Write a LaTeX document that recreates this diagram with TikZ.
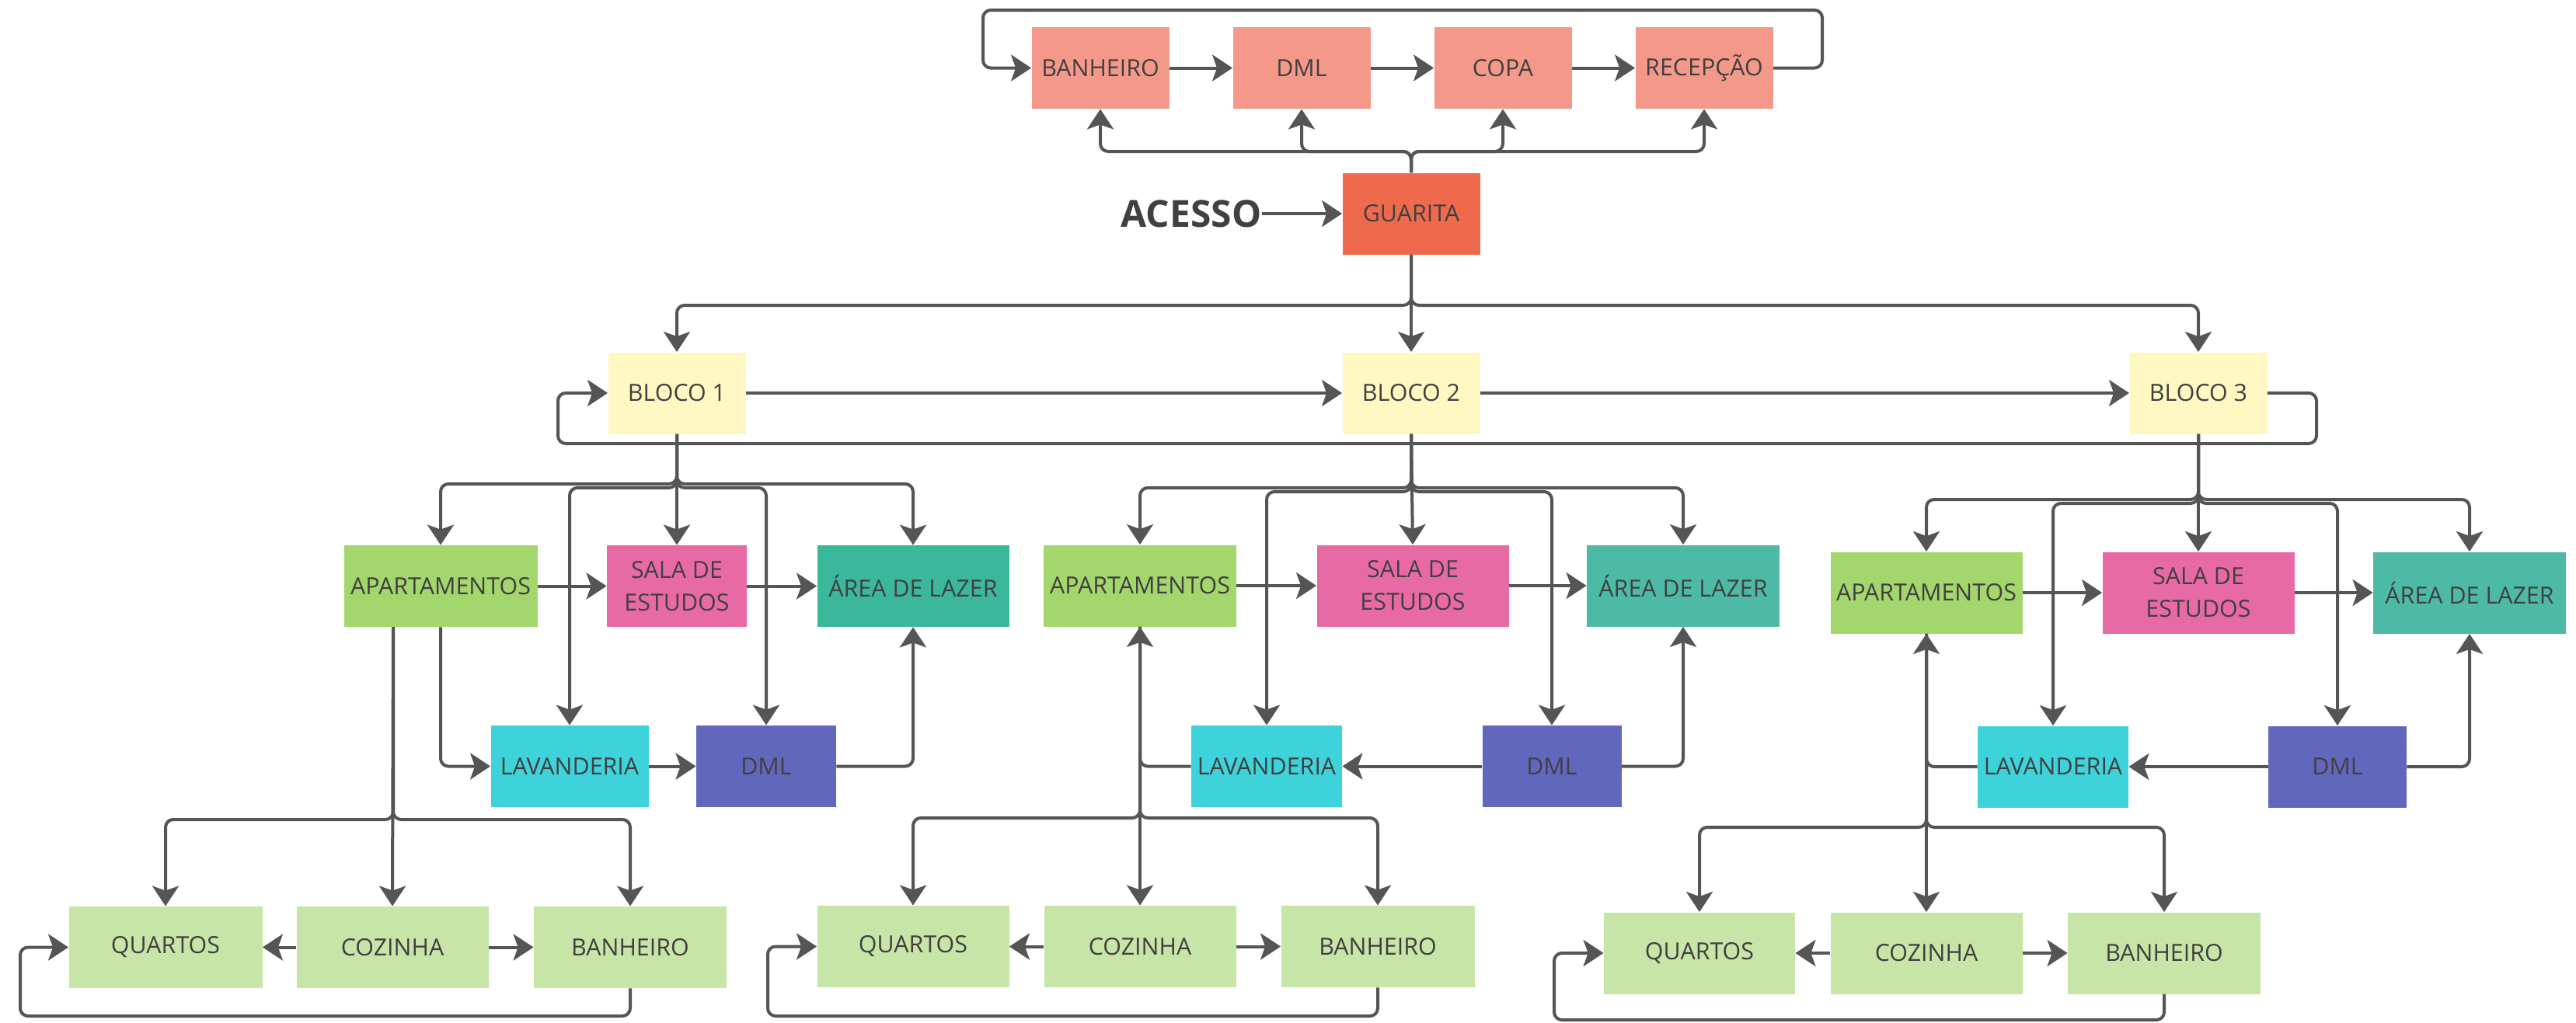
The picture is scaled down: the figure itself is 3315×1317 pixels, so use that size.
\documentclass[tikz,border=0pt]{standalone}
\usepackage{fontspec}
\setmainfont{Open Sans}
\usetikzlibrary{arrows.meta}
\definecolor{salmon}{HTML}{F4998A}
\definecolor{guarita}{HTML}{EF6A4C}
\definecolor{bloco}{HTML}{FFF8C2}
\definecolor{apto}{HTML}{A3D66C}
\definecolor{sala}{HTML}{E86AA4}
\definecolor{areaA}{HTML}{3BB79C}
\definecolor{areaB}{HTML}{4DBAA5}
\definecolor{lav}{HTML}{3ED3DB}
\definecolor{dml}{HTML}{6267BE}
\definecolor{pale}{HTML}{C6E5A7}
\definecolor{lineclr}{HTML}{555555}
\definecolor{txt}{HTML}{404040}
\begin{document}
\begin{tikzpicture}[x=0.5pt,y=-0.5pt,
  box/.style={rectangle, inner sep=0pt, minimum height=52.5pt, text=txt,
    font=\fontsize{15.2}{21}\selectfont, align=center},
  arr/.style={draw=lineclr, line width=2pt, rounded corners=5pt,
    -{Stealth[length=13pt,width=17pt,inset=3pt]}}]
\useasboundingbox (0,0) rectangle (3315,1317);
\fill[white] (0,0) rectangle (3315,1317);

% ---------- top row ----------
\node[box, fill=salmon, minimum width=88.5pt] (tban) at (1416,87.5) {BANHEIRO};
\node[box, fill=salmon, minimum width=88.5pt] (tdml) at (1675,87.5) {DML};
\node[box, fill=salmon, minimum width=88.5pt] (tcopa) at (1934,87.5) {COPA};
\node[box, fill=salmon, minimum width=88.5pt] (trec) at (2193,87.5) {RECEPÇÃO};
\node[box, fill=guarita, minimum width=88.5pt] (gua) at (1816,275) {GUARITA};
\node[text=txt, inner sep=0pt, font=\fontsize{24}{27}\selectfont\bfseries] (acesso) at (1533,275) {ACESSO};

\draw[arr] (tban) -- (tdml);
\draw[arr] (tdml) -- (tcopa);
\draw[arr] (tcopa) -- (trec);
\draw[arr] (trec.east) -| (2345,13) -| (1265,87.5) -- (tban.west);
\draw[arr] (acesso.east) -- (acesso.east -| gua.west);
\coordinate (gj) at (1816,195);
\draw[arr] (gua.north) -- (gj) -| (tban.south);
\draw[arr] (gua.north) -- (gj) -| (tdml.south);
\draw[arr] (gua.north) -- (gj) -| (tcopa.south);
\draw[arr] (gua.north) -- (gj) -| (trec.south);

% ---------- blocos ----------
\node[box, fill=bloco, minimum width=88.5pt] (b1) at (871,506) {BLOCO 1};
\node[box, fill=bloco, minimum width=88.5pt] (b2) at (1816,506) {BLOCO 2};
\node[box, fill=bloco, minimum width=88.5pt] (b3) at (2829,506) {BLOCO 3};
\coordinate (bj) at (1816,393);
\draw[arr] (gua.south) -- (bj) -| (b1.north);
\draw[arr] (gua.south) -- (b2.north);
\draw[arr] (gua.south) -- (bj) -| (b3.north);
\draw[arr] (b1) -- (b2);
\draw[arr] (b2) -- (b3);
\draw[arr] (b3.east) -| (2981,571) -| (718,506) -- (b1.west);

% ---------- bloco 1 ----------
\node[box, fill=apto, minimum width=124.5pt] (a1) at (567,754.5) {APARTAMENTOS};
\node[box, fill=sala, minimum width=90pt] (s1) at (871,754.5) {SALA DE\\ESTUDOS};
\node[box, fill=areaA, minimum width=123.5pt] (ar1) at (1175,754.5) {ÁREA DE LAZER};
\node[box, fill=lav, minimum width=101.5pt] (l1) at (733,986.5) {LAVANDERIA};
\node[box, fill=dml, minimum width=90pt] (d1) at (986,986.5) {DML};
\node[box, fill=pale, minimum width=124.5pt] (q1) at (213,1219.5) {QUARTOS};
\node[box, fill=pale, minimum width=123.5pt] (c1) at (505,1219.5) {COZINHA};
\node[box, fill=pale, minimum width=124pt] (bn1) at (811,1219.5) {BANHEIRO};

\coordinate (j1) at (871,623);
\coordinate (k1) at (871,628);
\draw[arr] (b1.south) -- (j1) -| (a1.north);
\draw[arr] (b1.south) -- (j1) -| (ar1.north);
\draw[arr] (b1.south) -- (s1.north);
\draw[arr] (b1.south) -- (k1) -| (l1.north);
\draw[arr] (b1.south) -- (k1) -| (d1.north);
\draw[arr] (a1) -- (s1);
\draw[arr] (s1) -- (ar1);
\draw[arr] (a1.south) |- (l1.west);
\draw[arr] (l1) -- (d1);
\draw[arr] (d1.east) -| (ar1.south);
\coordinate (a1o) at (506,807);
\coordinate (m1) at (506,1055);
\draw[arr] (a1o) -- (m1) -| (q1.north);
\draw[arr] (a1o) -- (c1.north);
\draw[arr] (a1o) -- (m1) -| (bn1.north);
\draw[arr] (c1) -- (q1);
\draw[arr] (c1) -- (bn1);
\draw[arr] (bn1.south) |- (26,1308) |- (q1.west);

% ---------- bloco 2 ----------
\node[box, fill=apto, minimum width=124pt] (a2) at (1467,754) {APARTAMENTOS};
\node[box, fill=sala, minimum width=123.5pt] (s2) at (1818,754) {SALA DE\\ESTUDOS};
\node[box, fill=areaB, minimum width=124pt] (ar2) at (2166,754) {ÁREA DE LAZER};
\node[box, fill=lav, minimum width=97pt] (l2) at (1630,986.5) {LAVANDERIA};
\node[box, fill=dml, minimum width=89.5pt] (d2) at (1997,986.5) {DML};
\node[box, fill=pale, minimum width=123.5pt] (q2) at (1175,1218.5) {QUARTOS};
\node[box, fill=pale, minimum width=123.5pt] (c2) at (1467,1218.5) {COZINHA};
\node[box, fill=pale, minimum width=124.5pt] (bn2) at (1773,1218.5) {BANHEIRO};

\coordinate (j2) at (1816,628);
\coordinate (k2) at (1816,633);
\draw[arr] (b2.south) -- (j2) -| (a2.north);
\draw[arr] (b2.south) -- (j2) -| (ar2.north);
\draw[arr] (b2.south) -- (s2.north);
\draw[arr] (b2.south) -- (k2) -| (l2.north);
\draw[arr] (b2.south) -- (k2) -| (d2.north);
\draw[arr] (a2) -- (s2);
\draw[arr] (s2) -- (ar2);
\draw[arr] (d2) -- (l2);
\draw[arr] (d2.east) -| (ar2.south);
\draw[arr] (l2.west) -| (a2.south);
\coordinate (m2) at (1467,1053);
\draw[arr] (a2.south) -- (m2) -| (q2.north);
\draw[arr] (a2.south) -- (c2.north);
\draw[arr] (a2.south) -- (m2) -| (bn2.north);
\draw[arr] (c2) -- (q2);
\draw[arr] (c2) -- (bn2);
\draw[arr] (bn2.south) |- (988,1308) |- (q2.west);

% ---------- bloco 3 ----------
\node[box, fill=apto, minimum width=123.5pt] (a3) at (2479,763) {APARTAMENTOS};
\node[box, fill=sala, minimum width=123.5pt] (s3) at (2829,763) {SALA DE\\ESTUDOS};
\node[box, fill=areaB, minimum width=124pt] (ar3) at (3178,763) {ÁREA DE LAZER};
\node[box, fill=lav, minimum width=97pt] (l3) at (2642,987) {LAVANDERIA};
\node[box, fill=dml, minimum width=89pt] (d3) at (3008,987) {DML};
\node[box, fill=pale, minimum width=123pt] (q3) at (2187,1227) {QUARTOS};
\node[box, fill=pale, minimum width=123.5pt] (c3) at (2479,1227) {COZINHA};
\node[box, fill=pale, minimum width=124pt] (bn3) at (2785,1227) {BANHEIRO};

\coordinate (j3) at (2829,643);
\coordinate (k3) at (2829,648);
\draw[arr] (b3.south) -- (j3) -| (a3.north);
\draw[arr] (b3.south) -- (j3) -| (ar3.north);
\draw[arr] (b3.south) -- (s3.north);
\draw[arr] (b3.south) -- (k3) -| (l3.north);
\draw[arr] (b3.south) -- (k3) -| (d3.north);
\draw[arr] (a3) -- (s3);
\draw[arr] (s3) -- (ar3);
\draw[arr] (d3) -- (l3);
\draw[arr] (d3.east) -| (ar3.south);
\draw[arr] (l3.west) -| (a3.south);
\coordinate (m3) at (2479,1065);
\draw[arr] (a3.south) -- (m3) -| (q3.north);
\draw[arr] (a3.south) -- (c3.north);
\draw[arr] (a3.south) -- (m3) -| (bn3.north);
\draw[arr] (c3) -- (q3);
\draw[arr] (c3) -- (bn3);
\draw[arr] (bn3.south) |- (2000,1313) |- (q3.west);
\end{tikzpicture}
\end{document}
